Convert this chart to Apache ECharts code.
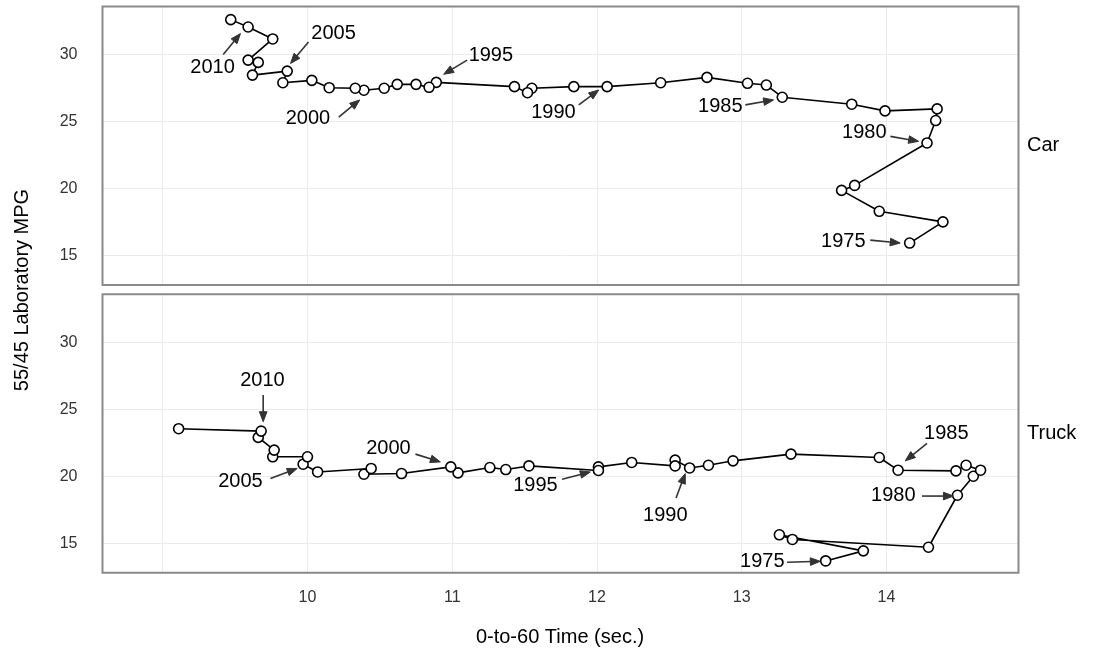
<!DOCTYPE html>
<html>
<head>
<meta charset="utf-8">
<script src="https://cdn.jsdelivr.net/npm/echarts@6/dist/echarts.min.js"></script>
<style>html,body{margin:0;padding:0;background:#fff;}#chart{width:1095px;height:656px;}</style>
</head>
<body>
<div id="chart"></div>
<script>
// ---- Data ----
const years = [1975,1976,1977,1978,1979,1980,1981,1982,1983,1984,1985,1986,1987,1988,1989,1990,1991,1992,1993,1994,1995,1996,1997,1998,1999,2000,2001,2002,2003,2004,2005,2006,2007,2008,2009,2010,2011];
const carTime = [14.16,14.39,13.95,13.69,13.78,14.28,14.34,14.35,13.99,13.76,13.28,13.17,13.04,12.76,12.44,12.07,11.84,11.55,11.52,11.43,10.89,10.84,10.75,10.62,10.53,10.39,10.33,10.15,10.03,9.83,9.86,9.62,9.66,9.59,9.76,9.59,9.47];
const carMPG  = [15.93,17.51,18.30,19.86,20.23,23.40,25.07,25.94,25.79,26.29,26.81,27.72,27.85,28.29,27.89,27.60,27.60,27.48,27.15,27.60,27.92,27.55,27.77,27.77,27.48,27.33,27.48,27.52,28.07,27.89,28.76,28.46,29.41,29.58,31.16,32.05,32.60];
const truckTime = [13.58,13.84,13.26,13.35,14.29,14.49,14.60,14.65,14.55,14.48,14.08,13.95,13.34,12.94,12.77,12.64,12.54,12.54,12.24,12.01,12.01,11.53,11.37,11.26,11.04,10.99,10.65,10.39,10.44,10.07,9.97,10.00,9.76,9.77,9.66,9.68,9.11];
const truckMPG  = [13.68,14.43,15.63,15.28,14.70,18.58,20.00,20.45,20.82,20.40,20.45,21.40,21.65,21.15,20.82,20.62,21.20,20.77,21.03,20.70,20.43,20.77,20.50,20.65,20.25,20.70,20.20,20.15,20.58,20.32,20.90,21.45,21.45,21.95,22.90,23.37,23.55];

const panels = ['Car', 'Truck'];
const xTickLabels = [10, 11, 12, 13, 14];
const yTickLabels = [15, 20, 25, 30];

// annotations (data coordinates)
const carNoteLabels = ['2010','2005','2000','1995','1990','1985','1980','1975'];
const carNoteX = [9.344,10.180,10.003,11.267,11.699,12.852,13.847,13.702];
const carNoteY = [29.06,31.58,25.24,29.95,25.65,26.09,24.16,16.08];
const carArrowFrom = [[9.418,30.0],[10.007,30.93],[10.216,25.33],[11.103,29.58],[11.874,26.24],[13.025,26.24],[14.027,23.89],[13.888,16.15]];
const carArrowTo   = [[9.537,31.56],[9.883,29.33],[10.361,26.61],[10.941,28.52],[12.012,27.35],[13.220,26.61],[14.222,23.52],[14.095,15.93]];

const truckNoteLabels = ['2010','2005','2000','1995','1990','1985','1980','1975'];
const truckNoteX = [9.689,9.537,10.559,11.575,12.472,14.413,14.047,13.142];
const truckNoteY = [27.12,19.63,22.10,19.33,17.08,23.22,18.58,13.63];
const truckArrowFrom = [[9.694,26.07],[9.744,19.83],[10.746,21.65],[11.759,19.78],[12.546,18.37],[14.280,22.45],[14.245,18.52],[13.313,13.58]];
const truckArrowTo   = [[9.694,24.07],[9.929,20.58],[10.918,21.07],[11.954,20.32],[12.610,20.20],[14.130,21.15],[14.463,18.52],[13.543,13.65]];

const xMin = 8.584, xMax = 14.912;
const yMin = 12.8, yMax = 33.58;

// ---- Build ----
const FONT = 'Liberation Sans, Arial, Helvetica, sans-serif';
const chart = echarts.init(document.getElementById('chart'), null, {renderer: 'canvas'});

function zip(a, b) { return a.map((v, i) => [v, b[i]]); }

const G = [
  {left: 102.5, top: 6.5, width: 916, height: 278.5},
  {left: 102.5, top: 294.3, width: 916, height: 278.4}
];
const grids = G.map(g => ({left: g.left, top: g.top, width: g.width, height: g.height, show: false}));

const xAxes = [0, 1].map(i => ({
  type: 'value', gridIndex: i, min: xMin, max: xMax,
  minInterval: 1, maxInterval: 1,
  axisLine: {show: false}, axisTick: {show: false},
  splitLine: {show: true, lineStyle: {color: '#ebebeb', width: 1}},
  axisLabel: {
    show: i === 1, margin: 17, fontSize: 16, color: '#333', fontFamily: FONT,
    formatter: v => (xTickLabels.indexOf(Math.round(v * 1000) / 1000) >= 0 ? String(v) : '')
  }
}));

const yAxes = [0, 1].map(i => ({
  type: 'value', gridIndex: i, min: yMin, max: yMax,
  minInterval: 5, maxInterval: 5,
  axisLine: {show: false}, axisTick: {show: false},
  splitLine: {show: true, lineStyle: {color: '#ebebeb', width: 1}},
  axisLabel: {
    margin: 25, fontSize: 16, color: '#333', fontFamily: FONT,
    formatter: v => (yTickLabels.indexOf(Math.round(v * 1000) / 1000) >= 0 ? String(v) : '')
  }
}));

function pathSeries(i, xs, ys) {
  return {
    type: 'line', xAxisIndex: i, yAxisIndex: i,
    data: zip(xs, ys),
    symbol: 'circle', symbolSize: 10, showSymbol: true,
    lineStyle: {color: '#000', width: 1.6},
    itemStyle: {color: '#fff', borderColor: '#000', borderWidth: 1.6},
    animation: false, silent: true, z: 3
  };
}

function noteSeries(i, labels, xs, ys, from, to) {
  return {
    type: 'custom', xAxisIndex: i, yAxisIndex: i,
    coordinateSystem: 'cartesian2d',
    data: labels.map((l, k) => [xs[k], ys[k], from[k][0], from[k][1], to[k][0], to[k][1], l]),
    encode: {x: [0, 2, 4], y: [1, 3, 5]},
    renderItem: function (params, api) {
      const t = api.coord([api.value(0), api.value(1)]);
      const a = api.coord([api.value(2), api.value(3)]);
      const b = api.coord([api.value(4), api.value(5)]);
      const label = labels[params.dataIndex];
      const dx = b[0] - a[0], dy = b[1] - a[1];
      const len = Math.sqrt(dx * dx + dy * dy) || 1;
      const ux = dx / len, uy = dy / len;
      const hl = 10, hw = 3.8;
      const bx = b[0] - ux * hl, by = b[1] - uy * hl;
      return {
        type: 'group',
        children: [
          {type: 'line', shape: {x1: a[0], y1: a[1], x2: bx + ux * 2, y2: by + uy * 2},
            style: {stroke: '#333', lineWidth: 1.6}},
          {type: 'polygon', shape: {points: [[b[0], b[1]], [bx - uy * hw, by + ux * hw], [bx + uy * hw, by - ux * hw]]},
            style: {fill: '#333', stroke: '#333', lineWidth: 1}},
          {type: 'text', x: t[0], y: t[1],
            style: {text: label, fontSize: 20, fill: '#000', fontFamily: FONT, align: 'center', verticalAlign: 'middle'}}
        ]
      };
    },
    animation: false, silent: true, z: 4
  };
}

const option = {
  animation: false,
  backgroundColor: '#fff',
  grid: grids,
  xAxis: xAxes,
  yAxis: yAxes,
  series: [
    pathSeries(0, carTime, carMPG),
    pathSeries(1, truckTime, truckMPG),
    noteSeries(0, carNoteLabels, carNoteX, carNoteY, carArrowFrom, carArrowTo),
    noteSeries(1, truckNoteLabels, truckNoteX, truckNoteY, truckArrowFrom, truckArrowTo)
  ],
  graphic: G.map(g => ({
    type: 'rect', z: 100, silent: true,
    shape: {x: g.left, y: g.top, width: g.width, height: g.height},
    style: {fill: 'none', stroke: '#8a8a8a', lineWidth: 2}
  })).concat([
    {type: 'text', left: 1027, top: 146 - 11, style: {text: panels[0], fontSize: 20, fill: '#000', fontFamily: FONT}},
    {type: 'text', left: 1027, top: 434 - 11, style: {text: panels[1], fontSize: 20, fill: '#000', fontFamily: FONT}},
    {type: 'text', x: 22, y: 290, rotation: Math.PI / 2,
      style: {text: '55/45 Laboratory MPG', fontSize: 20, fill: '#000', fontFamily: FONT, align: 'center', verticalAlign: 'middle'}},
    {type: 'text', x: 560, y: 637,
      style: {text: '0-to-60 Time (sec.)', fontSize: 20, fill: '#000', fontFamily: FONT, align: 'center', verticalAlign: 'middle'}}
  ])
};
chart.setOption(option);
</script>
</body>
</html>
